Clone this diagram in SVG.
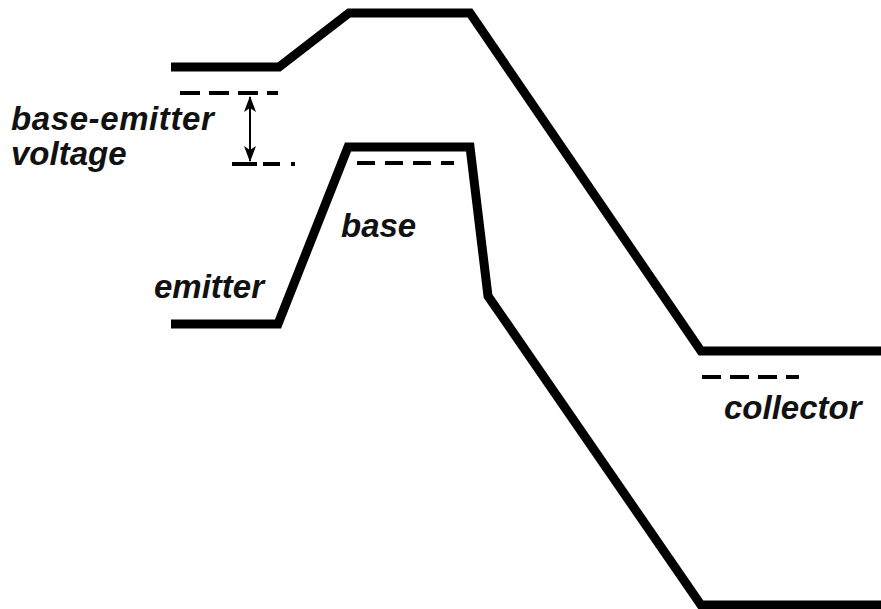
<svg xmlns="http://www.w3.org/2000/svg" width="881" height="609" viewBox="0 0 881 609">
  <style>
    .band { fill: none; stroke: #000; stroke-width: 9; stroke-linejoin: miter; stroke-miterlimit: 10; }
    .level { fill: none; stroke: #000; stroke-width: 4; }
    .label { font-family: "Liberation Sans", Arial, sans-serif; font-weight: bold; font-style: italic; font-size: 33px; fill: #111; }
    .dim { fill: none; stroke: #000; stroke-width: 2; }
  </style>
  <defs>
    <marker id="head" viewBox="0 0 16 12" refX="15" refY="6" markerWidth="16" markerHeight="12" markerUnits="userSpaceOnUse" orient="auto-start-reverse">
      <path d="M0,0 L16,6 L0,12 L4,6 Z" fill="#000"/>
    </marker>
  </defs>

  <!-- band edges -->
  <g id="connectors">
    <path id="conduction-band" class="band" d="M171,67 L279,67 L349,13 L470,13 L701,351 L881,351"/>
    <path id="valence-band" class="band" d="M171,324 L278,324 L348,147 L470,147 L488,296 L701,605 L881,605"/>
  </g>

  <!-- Fermi levels -->
  <g id="emitter-level">
    <path class="level" d="M180,93 L278,93" stroke-dasharray="20 9"/>
  </g>
  <g id="emitter-level-shifted">
    <path class="level" d="M232,164 L257,164 M263,164 L280,164 M291,164 L295,164"/>
  </g>
  <g id="base-level">
    <path class="level" d="M357,163 L454,163" stroke-dasharray="18 10"/>
  </g>
  <g id="collector-level">
    <path class="level" d="M702,377 L799,377" stroke-dasharray="19 9"/>
  </g>

  <!-- base-emitter voltage span -->
  <g id="voltage-span">
    <line class="dim" x1="250" y1="128" x2="250" y2="97" marker-end="url(#head)"/>
    <line class="dim" x1="250" y1="128" x2="250" y2="161" marker-end="url(#head)"/>
  </g>

  <!-- labels -->
  <g id="label-voltage">
    <text class="label" x="11" y="130" letter-spacing="0.6">base-emitter</text>
    <text class="label" x="11" y="165">voltage</text>
  </g>
  <g id="label-emitter">
    <text class="label" x="154" y="298">emitter</text>
  </g>
  <g id="label-base">
    <text class="label" x="341" y="237">base</text>
  </g>
  <g id="label-collector">
    <text class="label" x="724" y="419">collector</text>
  </g>
</svg>
